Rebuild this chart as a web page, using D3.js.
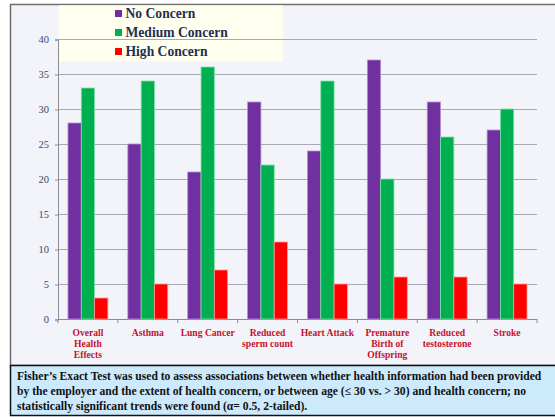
<!DOCTYPE html>
<html>
<head>
<meta charset="utf-8">
<script src="https://cdn.jsdelivr.net/npm/d3@7"></script>
<style>
html,body{margin:0;padding:0;background:#fff;}
svg{display:block;}
</style>
</head>
<body>
<div id="chart"></div>
<script>
(function(){

const categories = [
  ["Overall","Health","Effects"],
  ["Asthma"],
  ["Lung Cancer"],
  ["Reduced","sperm count"],
  ["Heart Attack"],
  ["Premature","Birth of","Offspring"],
  ["Reduced","testosterone"],
  ["Stroke"]
];
const seriesNames = ["No Concern","Medium Concern","High Concern"];
const noConcern = [28,25,21,31,24,37,31,27];
const mediumConcern = [33,34,36,22,34,20,26,30];
const highConcern = [3,5,7,11,5,6,6,5];
const yTicks = [0,5,10,15,20,25,30,35,40];
const noteLines = [
  "Fisher\u2019s Exact Test was used to assess associations between whether health information had been provided",
  "by the employer and the extent of health concern, or between age (\u2264 30 vs. > 30) and health concern; no",
  "statistically significant trends were found (\u03b1= 0.5, 2-tailed)."
];

const colors = ["#7030a0","#00b050","#ff0000"];
const edges = ["#b48fd0","#7fe0a8","#ff9a9a"];

const width = 555, height = 417;
const plot = {left:58, right:537, top:39, bottom:319};
const serif = "'Liberation Serif','Times New Roman',serif";

const svg = d3.select("#chart").append("svg")
  .attr("width",width).attr("height",height);

// frame + background
svg.append("rect").attr("x",10.5).attr("y",4.5).attr("width",width).attr("height",361)
  .attr("fill","#f2f4fa").attr("stroke","#6e6e6e").attr("stroke-width",1.5);

// legend box
svg.append("rect").attr("x",59).attr("y",5.3).attr("width",224).attr("height",56)
  .attr("fill","#fffff0");

const idx = d3.range(categories.length);
const x = d3.scaleBand().domain(idx).range([plot.left,plot.right])
  .paddingInner(1/3).paddingOuter(1/6);
const xs = d3.scaleBand().domain(d3.range(3)).range([0,x.bandwidth()]);
const y = d3.scaleLinear().domain([0,40]).range([plot.bottom,plot.top]);

// gridlines
svg.append("g").selectAll("line").data(yTicks.filter(d=>d>0)).enter().append("line")
  .attr("x1",plot.left).attr("x2",plot.right)
  .attr("y1",d=>y(d)+0.5).attr("y2",d=>y(d)+0.5)
  .attr("stroke","#a9a9b3").attr("stroke-width",1);

// y axis
const yAxis = svg.append("g").attr("transform",`translate(${plot.left},0.5)`)
  .call(d3.axisLeft(y).tickValues(yTicks).tickSize(3).tickPadding(6));
yAxis.selectAll("text").attr("font-family",serif).attr("font-size","10.5px").attr("fill","#3a4868");
yAxis.selectAll("line,path").attr("stroke","#8a8a94");

// x axis
const edgesX = idx.map(i=>plot.left + i*x.step()).concat([plot.right]);
const xg = svg.append("g");
xg.append("line").attr("x1",plot.left).attr("x2",plot.right)
  .attr("y1",plot.bottom+0.5).attr("y2",plot.bottom+0.5).attr("stroke","#8a8a94");
xg.selectAll(".tk").data(edgesX).enter().append("line")
  .attr("x1",d=>d).attr("x2",d=>d).attr("y1",plot.bottom).attr("y2",plot.bottom+4)
  .attr("stroke","#8a8a94");

// bars
const series = [noConcern,mediumConcern,highConcern];
series.forEach((vals,s)=>{
  svg.append("g").selectAll("rect").data(vals).enter().append("rect")
    .attr("x",(d,i)=>x(i)+xs(s))
    .attr("y",d=>y(d))
    .attr("width",xs.bandwidth())
    .attr("height",d=>plot.bottom-y(d))
    .attr("fill",colors[s])
    .attr("stroke",edges[s]).attr("stroke-width",0.8);
});

// x labels
const lab = svg.append("g");
categories.forEach((lines,i)=>{
  const t = lab.append("text")
    .attr("x",x(i)+x.bandwidth()/2).attr("y",336)
    .attr("text-anchor","middle")
    .attr("font-family",serif).attr("font-size","9.6px").attr("font-weight","bold")
    .attr("fill","#c8102e");
  lines.forEach((l,k)=>{
    t.append("tspan").attr("x",x(i)+x.bandwidth()/2).attr("dy",k?10.8:0).text(l);
  });
});

// legend
seriesNames.forEach((n,i)=>{
  const ly = 13.5 + i*19;
  svg.append("rect").attr("x",115).attr("y",ly-3.5).attr("width",7).attr("height",7)
    .attr("fill",colors[i]);
  svg.append("text").attr("x",125.5).attr("y",ly+4.5)
    .attr("font-family",serif).attr("font-size","13.6px").attr("font-weight","bold")
    .attr("fill","#1f3050").text(n);
});

// note box
svg.append("rect").attr("x",10.5).attr("y",365.5).attr("width",width).attr("height",50)
  .attr("fill","#cdeafc").attr("stroke","#111").attr("stroke-width",1.5);
noteLines.forEach((l,i)=>{
  svg.append("text").attr("x",17).attr("y",380+i*15)
    .attr("font-family",serif).attr("font-size","11.6px").attr("font-weight","bold")
    .attr("fill","#111").text(l);
});

})();
</script>
</body>
</html>
